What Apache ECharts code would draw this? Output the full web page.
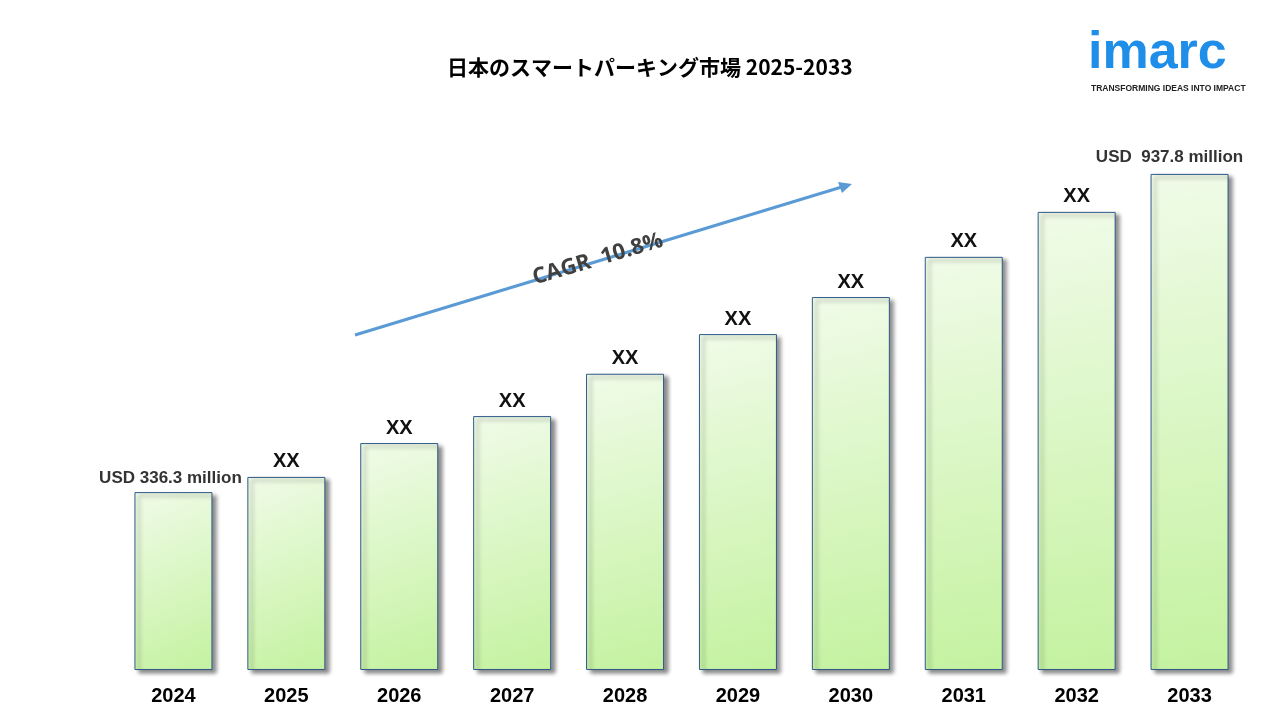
<!DOCTYPE html><html><head><meta charset="utf-8">
<script src="https://cdn.jsdelivr.net/npm/echarts@6/dist/echarts.min.js"></script>
<style>html,body{margin:0;background:#fff}#c{width:1280px;height:720px}</style></head><body><div id="c"></div>
<script>
const years=['2024','2025','2026','2027','2028','2029','2030','2031','2032','2033'];
const values=[336.3,365,429,480,560,635,705,781,866,937.8];
const labels=['USD 336.3 million','XX','XX','XX','XX','XX','XX','XX','XX','USD  937.8 million'];
const chart=echarts.init(document.getElementById('c'));
chart.setOption({
 title:{text:'日本のスマートパーキング市場 2025-2033',left:442,top:52,textStyle:{fontFamily:'Noto Sans CJK JP',fontSize:21,fontWeight:'bold',color:'#000'}},
 grid:{left:117,right:34,top:141,bottom:50},
 xAxis:{type:'category',data:years,axisLine:{show:false},axisTick:{show:false},
  axisLabel:{fontSize:20,fontWeight:'bold',color:'#000',fontFamily:'Liberation Sans',margin:16}},
 yAxis:{type:'value',min:0,max:1000,show:false,splitLine:{show:false}},
 series:[{type:'bar',barWidth:78,data:values.map((v,i)=>({value:v,label:{show:true,position:'top',formatter:labels[i],
   fontSize:i==0||i==9?17:20,fontWeight:'bold',color:i==0||i==9?'#333':'#111',fontFamily:'Liberation Sans',
   offset:i==0?[-3,0]:(i==9?[-20,-3]:[0,0])}})),
  itemStyle:{color:new echarts.graphic.LinearGradient(0,0,1,1,[{offset:0,color:'#f0fbe8'},{offset:1,color:'#c4f2a0'}]),
   borderColor:'#2f5a8a',borderWidth:1,shadowColor:'rgba(0,0,0,0.45)',shadowBlur:4,shadowOffsetX:4,shadowOffsetY:3}}],
 graphic:[
  {type:'line',shape:{x1:355,y1:335,x2:845,y2:186},style:{stroke:'#5b9bd5',lineWidth:3}},
  {type:'polygon',shape:{points:[[852,184],[838,182],[842,193]]},style:{fill:'#5b9bd5'}},
  {type:'text',x:530,y:268,rotation:0.29,style:{text:'CAGR  10.8%',font:'bold 22px "Open Sans"',fill:'#404040'}},
  {type:'text',x:1088,y:28,style:{text:'imarc',font:'bold 52px "Liberation Sans"',fill:'#1e8ee8'}},
  {type:'text',x:1091,y:84,style:{text:'TRANSFORMING IDEAS INTO IMPACT',font:'bold 8.5px "Liberation Sans"',fill:'#222'}}
 ]
});
</script></body></html>
